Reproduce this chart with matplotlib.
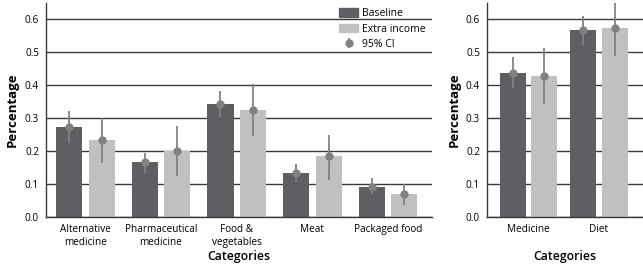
import matplotlib
matplotlib.use("Agg")
import matplotlib.pyplot as plt
import numpy as np
from matplotlib.patches import Patch

plt.rcParams['font.family'] = ['Open Sans', 'DejaVu Sans']

# Left panel data
cats_left = ["Alternative\nmedicine", "Pharmaceutical\nmedicine", "Food &\nvegetables", "Meat", "Packaged food"]
base_left = [0.273, 0.166, 0.342, 0.133, 0.091]
base_left_lo = [0.225, 0.134, 0.304, 0.107, 0.069]
base_left_hi = [0.321, 0.194, 0.382, 0.160, 0.117]
extra_left = [0.233, 0.200, 0.324, 0.185, 0.070]
extra_left_lo = [0.165, 0.124, 0.245, 0.112, 0.036]
extra_left_hi = [0.302, 0.276, 0.403, 0.248, 0.101]

# Right panel data
cats_right = ["Medicine", "Diet"]
base_right = [0.436, 0.567]
base_right_lo = [0.391, 0.522]
base_right_hi = [0.485, 0.612]
extra_right = [0.429, 0.573]
extra_right_lo = [0.342, 0.488]
extra_right_hi = [0.512, 0.660]

DARK = '#5e5f62'
LIGHT = '#bfc0c2'
ERR = '#818181'
GRID = '#3a3a3a'

fig = plt.figure(figsize=(6.43, 2.67), dpi=100)
axL = fig.add_axes([46/643, 1-217/267, (432-46)/643, 214/267])
axR = fig.add_axes([487/643, 1-217/267, (643-487)/643, 214/267])


def draw(ax, cats, b, blo, bhi, e, elo, ehi, width, off, xlim):
    x = np.arange(len(cats))
    ax.bar(x - off, b, width, color=DARK, zorder=2)
    ax.bar(x + off, e, width, color=LIGHT, zorder=2)
    eb = None
    for xs, m, lo, hi in [(x - off, b, blo, bhi), (x + off, e, elo, ehi)]:
        m = np.array(m); lo = np.array(lo); hi = np.array(hi)
        eb = ax.errorbar(xs, m, yerr=[m - lo, hi - m], fmt='o', color=ERR, ms=5,
                         elinewidth=1.3, capsize=0, zorder=3, clip_on=True)
    ax.set_xticks(x)
    ax.set_xticklabels(cats, fontsize=7.2, linespacing=1.3)
    ax.set_xlim(*xlim)
    ax.set_ylim(0, 0.65)
    ax.set_yticks([0.0, 0.1, 0.2, 0.3, 0.4, 0.5, 0.6])
    ax.set_yticklabels(["0.0", "0.1", "0.2", "0.3", "0.4", "0.5", "0.6"], fontsize=7.2)
    ax.tick_params(axis='both', length=0, pad=5)
    ax.yaxis.grid(True, color=GRID, lw=1.0, zorder=0)
    ax.set_axisbelow(True)
    for s in ['top', 'right']:
        ax.spines[s].set_visible(False)
    ax.spines['left'].set_color(GRID)
    ax.spines['bottom'].set_color(GRID)
    ax.spines['left'].set_linewidth(1.0)
    ax.spines['bottom'].set_linewidth(1.0)
    ax.set_ylabel("Percentage", fontsize=9.5, fontweight='bold', labelpad=4)
    ax.set_xlabel("Categories", fontsize=8.8, fontweight='semibold')
    ax.xaxis.set_label_coords(0.5, -0.185)
    ax.xaxis.label.set_va('center')
    return eb


eb = draw(axL, cats_left, base_left, base_left_lo, base_left_hi,
          extra_left, extra_left_lo, extra_left_hi, 0.345, 0.215, (-0.52, 4.58))
draw(axR, cats_right, base_right, base_right_lo, base_right_hi,
     extra_right, extra_right_lo, extra_right_hi, 0.37, 0.225, (-0.59, 1.63))

handles = [Patch(color=DARK, label='Baseline'),
           Patch(color=LIGHT, label='Extra income'),
           eb]
labels = ['Baseline', 'Extra income', '95% CI']
axL.legend(handles=handles, labels=labels, loc='upper right', bbox_to_anchor=(1.0, 1.005),
           frameon=False, fontsize=7.5, handlelength=1.8, handleheight=0.9,
           handletextpad=0.4, labelspacing=0.42, borderaxespad=0.2)

fig.savefig("out.png", dpi=100)
